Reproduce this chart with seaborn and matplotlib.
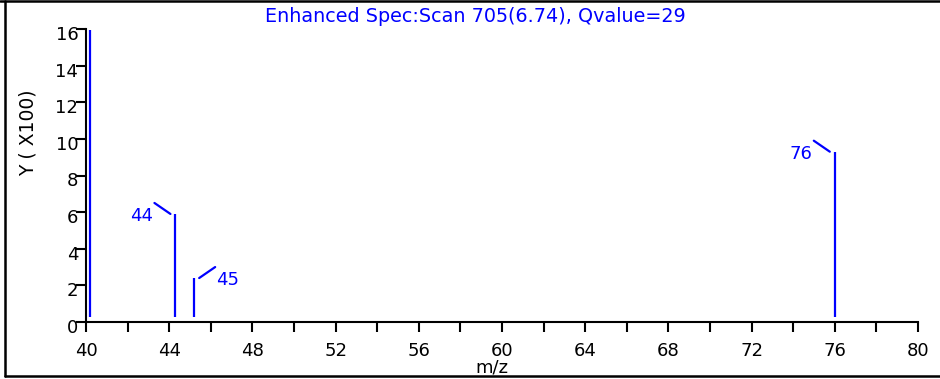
import matplotlib
matplotlib.use("Agg")
import matplotlib.pyplot as plt
import matplotlib.transforms as mtransforms
from matplotlib.lines import Line2D
from matplotlib.ticker import MultipleLocator
import seaborn as sns

# Spectrum peaks (m/z, intensity in hundreds)
peak_mz = [40.2, 44.3, 45.2, 76.0]
peak_intensity = [15.95, 5.9, 2.4, 9.3]

# Labelled peaks: text, m/z, intensity, side of the callout (-1 left, +1 right)
label_text = ["44", "45", "76"]
label_mz = [44.3, 45.2, 76.0]
label_intensity = [5.9, 2.4, 9.3]
label_side = [-1, 1, -1]

title_text = "Enhanced Spec:Scan 705(6.74), Qvalue=29"
x_label = "m/z"
y_label = "Y ( X100)"
x_ticks = [40, 44, 48, 52, 56, 60, 64, 68, 72, 76, 80]
y_ticks = [0, 2, 4, 6, 8, 10, 12, 14, 16]

BLUE = "#0000FF"
BASE = 0.25  # sticks start just above the axis line

sns.set_theme(style="white")
plt.rcParams["font.family"] = ["DejaVu Sans"]

W, H, DPI = 940, 379, 100
fig = plt.figure(figsize=(W / DPI, H / DPI), dpi=DPI)
ax = fig.add_axes([86 / W, 1 - 322 / H, (918 - 86) / W, (322 - 29) / H])

ax.vlines(peak_mz, BASE, peak_intensity, colors=BLUE, linewidth=1.6)

ax.set_xlim(40, 80)
ax.set_ylim(0, 16)
ax.set_xticks(x_ticks)
ax.xaxis.set_minor_locator(MultipleLocator(2))
ax.set_yticks(y_ticks)
ax.set_xticklabels([str(t) for t in x_ticks])
ax.set_yticklabels([str(t) for t in y_ticks])

sns.despine(ax=ax)
for side in ("left", "bottom"):
    ax.spines[side].set_color("black")
    ax.spines[side].set_linewidth(1.5)

ax.tick_params(axis="x", which="both", direction="out", length=7.5, width=1.5,
               color="black", pad=7, labelsize=13, labelcolor="black",
               bottom=True)
ax.tick_params(axis="y", which="major", direction="out", length=7, width=1.5,
               color="black", pad=-1.5, labelsize=13, labelcolor="black",
               left=True)

# y tick labels sit slightly below their ticks
shift = mtransforms.ScaledTranslation(0, -4 / DPI, fig.dpi_scale_trans)
for lab in ax.get_yticklabels():
    lab.set_transform(lab.get_transform() + shift)

# Peak callouts: short slanted connector plus the m/z value
for txt, mz, inten, s in zip(label_text, label_mz, label_intensity, label_side):
    start = ax.transData + mtransforms.ScaledTranslation(s * 5 / DPI, 0, fig.dpi_scale_trans)
    ax.annotate("", xy=(mz, inten), xycoords=start,
                xytext=(s * 16, 11), textcoords="offset pixels",
                arrowprops=dict(arrowstyle="-", color=BLUE, lw=1.6,
                                shrinkA=0, shrinkB=0))
    ax.annotate(txt, xy=(mz, inten), xycoords="data",
                xytext=(s * 22, -2), textcoords="offset pixels",
                ha="right" if s < 0 else "left", va="center",
                color=BLUE, fontsize=13)

fig.text(475 / W, 1 - 16 / H, title_text, color=BLUE, fontsize=13.8,
         ha="center", va="center")
fig.text(28 / W, 1 - 133 / H, y_label, rotation=90, fontsize=13.5,
         ha="center", va="center", color="black")
fig.text(492 / W, 1 - 373 / H, x_label, fontsize=13,
         ha="center", va="baseline", color="black")

# Frame lines around the figure (top, left, bottom)
frame = dict(color="black", linewidth=1.8, transform=fig.transFigure, zorder=10)
fig.add_artist(Line2D([0, 1], [1 - 1 / H, 1 - 1 / H], **frame))
fig.add_artist(Line2D([5 / W, 5 / W], [1 - 1 / H, 1 - 376 / H], **frame))
fig.add_artist(Line2D([5 / W, 1], [1 - 376 / H, 1 - 376 / H], **frame))

fig.savefig("out.png", dpi=DPI)
